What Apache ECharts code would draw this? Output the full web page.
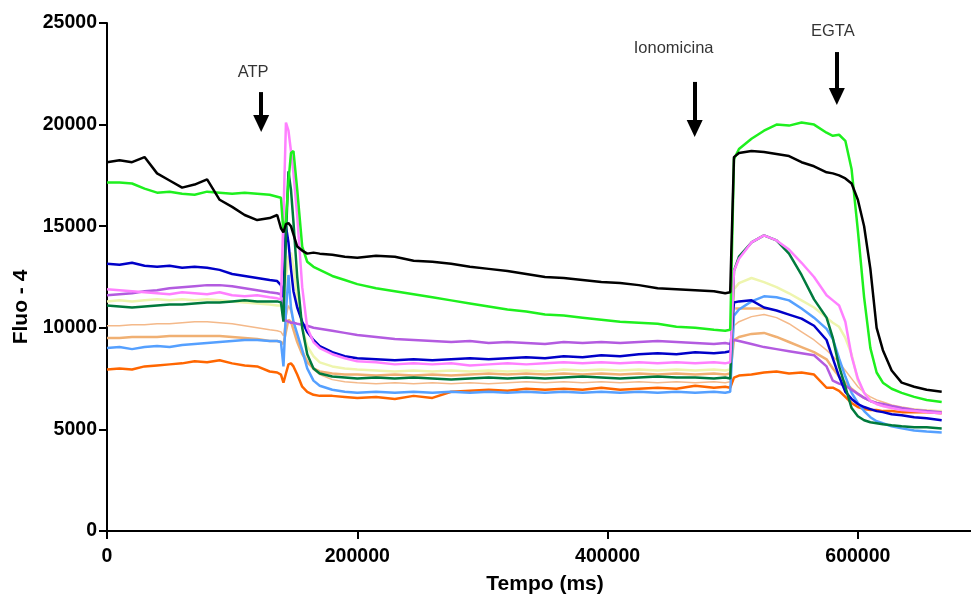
<!DOCTYPE html>
<html>
<head>
<meta charset="utf-8">
<script src="https://cdn.jsdelivr.net/npm/echarts/dist/echarts.min.js"></script>
<style>
  html, body { margin: 0; padding: 0; background: #fff; }
  #grafico { width: 971px; height: 596px; }
</style>
</head>
<body>
<div id="grafico"></div>
<script>
// tempo (ms) - amostragem comum a todas as curvas
var tempo = [0,10000,20000,30000,40000,50000,60000,70000,80000,90000,100000,110000,120000,130000,
  136000,139000,141000,143000,145000,147000,149000,152000,156000,160000,165000,170000,
  180000,190000,200000,
  215000,230000,245000,260000,275000,290000,305000,320000,335000,350000,365000,380000,395000,410000,425000,440000,455000,470000,485000,
  494000,498000,501000,505000,
  515000,525000,535000,545000,555000,565000,575000,
  580000,585000,590000,595000,600000,605000,610000,615000,620000,
  627000,635000,645000,655000,667000];

var preto = [18150,18250,18150,18400,17600,17250,16900,17050,17300,16300,15950,15550,15300,15400,
  15550,14900,14700,15100,15150,15000,14600,14000,13800,13650,13700,13650,
  13600,13500,13450,
  13550,13500,13300,13250,13150,13000,12900,12800,12650,12500,12450,12350,12250,12200,12100,11950,11900,11850,11800,
  11700,11750,18400,18600,
  18700,18650,18550,18450,18150,17950,17650,
  17600,17500,17350,17100,16300,15000,12900,10000,8900,
  7900,7300,7100,6950,6850];

var verde = [17150,17150,17100,16850,16650,16700,16600,16550,16700,16650,16600,16650,16600,16550,
  16450,16400,14700,15300,17200,18600,18700,16800,14000,13250,13000,12850,
  12550,12350,12150,
  11950,11800,11650,11500,11350,11200,11050,10900,10800,10650,10600,10500,10400,10300,10250,10200,10050,10000,9900,
  9850,9900,18300,18800,
  19300,19700,20000,19950,20100,20000,19600,
  19450,19500,19200,17800,14800,11500,9000,7800,7300,
  7000,6800,6600,6450,6350];

var azulEscuro = [13150,13100,13200,13050,13000,13050,12950,13000,12950,12850,12650,12550,12450,12350,
  12300,12100,11500,15000,14200,12900,11800,11000,10300,9800,9400,9100,
  8800,8600,8500,
  8450,8400,8450,8400,8450,8500,8450,8500,8550,8500,8600,8550,8650,8600,8700,8750,8700,8800,8750,
  8800,8850,11250,11300,
  11350,11000,10850,10650,10450,10100,9400,
  8500,7600,6850,6500,6250,6100,6000,5900,5850,
  5750,5700,5600,5550,5450];

var rosa = [11900,11850,11800,11750,11700,11650,11750,11700,11650,11750,11600,11550,11600,11500,
  11450,11400,15500,20100,19700,18700,17600,15500,12000,10000,9300,9000,
  8700,8500,8350,
  8300,8200,8250,8200,8250,8150,8200,8250,8200,8250,8300,8250,8300,8250,8300,8250,8300,8250,8300,
  8250,8300,12800,13400,
  14200,14550,14300,13850,13200,12500,11600,
  11350,11100,10300,8600,7500,6800,6400,6250,6150,
  6050,5950,5900,5850,5800];

var roxo = [11600,11650,11700,11800,11850,11950,12000,12050,12100,12100,12050,11950,11850,11750,
  11700,11650,10400,10350,10300,10250,10250,10200,10150,10100,10000,9950,
  9850,9750,9650,
  9550,9450,9400,9350,9300,9350,9250,9300,9250,9200,9300,9250,9300,9250,9300,9350,9300,9250,9200,
  9250,9200,9400,9350,
  9200,9050,8950,8850,8750,8650,8100,
  7400,7250,7150,6950,6750,6550,6400,6300,6250,
  6150,6050,5950,5900,5850];

var verdeEscuro = [11100,11050,11000,11050,11100,11150,11150,11200,11250,11250,11300,11350,11300,11300,
  11300,11250,10300,14500,17700,16800,15200,12500,10000,8700,8000,7750,
  7600,7550,7500,
  7550,7500,7550,7500,7450,7500,7550,7500,7550,7500,7550,7600,7550,7500,7550,7600,7550,7550,7500,
  7550,7500,12800,13500,
  14200,14550,14300,13650,12600,11400,10500,
  9500,8100,7100,6050,5650,5450,5350,5300,5250,
  5200,5150,5100,5100,5050];

var amareloClaro = [11300,11350,11300,11350,11400,11350,11400,11350,11400,11350,11300,11250,11200,11150,
  11100,11100,11000,12500,13500,13700,13000,11500,10000,9100,8600,8300,
  8100,8000,7950,
  7900,7850,7900,7850,7900,7850,7900,7850,7900,7850,7950,7900,7950,7900,7950,7900,7950,7900,7950,
  7900,7950,11900,12200,
  12450,12250,12000,11700,11350,11000,10500,
  10250,10050,9500,8700,7400,6800,6450,6250,6150,
  6050,6000,5950,5900,5900];

var pessegoFino = [10100,10100,10150,10150,10200,10200,10250,10300,10300,10250,10200,10100,10000,9900,
  9850,9800,9600,10500,11100,10800,10300,9600,8900,8400,7950,7700,
  7450,7350,7300,
  7250,7300,7250,7300,7250,7300,7250,7300,7350,7300,7350,7300,7350,7300,7350,7300,7350,7300,7350,
  7300,7350,10100,10300,
  10550,10650,10500,10200,9800,9400,8900,
  8600,8300,7900,7500,7100,6800,6600,6450,6350,
  6200,6100,6000,5950,5900];

var pessego = [9500,9500,9550,9550,9550,9600,9600,9600,9600,9600,9550,9500,9450,9350,
  9350,9300,9200,9800,10400,10300,9900,9300,8700,8300,8000,7850,
  7750,7700,7700,
  7650,7700,7650,7700,7650,7700,7750,7700,7750,7700,7750,7700,7750,7700,7750,7700,7750,7700,7750,
  7700,7750,9400,9550,
  9700,9750,9550,9300,9050,8800,8450,
  8000,7600,7300,7000,6750,6550,6400,6300,6200,
  6100,6000,5950,5900,5850];

var azulClaro = [9000,9050,8950,9050,9100,9050,9150,9200,9250,9300,9350,9400,9400,9350,
  9350,9300,8100,10800,12600,11000,10300,9700,8900,8000,7400,7150,
  6950,6850,6800,
  6850,6800,6850,6800,6850,6800,6850,6800,6850,6800,6850,6800,6850,6800,6850,6800,6850,6800,6850,
  6800,6850,10600,10900,
  11300,11550,11500,11350,10950,10500,9950,
  9450,8500,7600,6800,6300,5900,5600,5400,5300,
  5150,5050,4950,4900,4850];

var laranja = [7950,8000,7950,8100,8150,8200,8250,8350,8300,8400,8250,8150,8100,7850,
  7800,7700,7300,7750,8200,8250,8100,7700,7100,6850,6700,6650,
  6650,6600,6550,
  6600,6500,6650,6550,6850,6900,6950,6900,7000,6950,7000,6950,7050,6950,7000,7050,7000,7150,7050,
  7100,7050,7550,7650,
  7700,7800,7850,7750,7800,7700,7050,
  7050,6900,6600,6300,6100,6000,5950,5950,5900,
  5900,5850,5850,5850,5800];

// trecho curto de pessego logo apos a ionomicina
var trechoTempo = [502000, 528000];
var trechoValor = [10950, 10950];

// anotacoes
var rotulosTexto = ['ATP', 'Ionomicina', 'EGTA'];
var rotulosX = [116800, 452800, 580000];
var rotulosY = [22590, 23770, 24560];
var setasX = [123200, 469600, 583200];
var setasTopo = [21600, 22100, 23570];
var setasPonta = [20050, 19810, 21380];

var myChart = echarts.init(document.getElementById('grafico'));
var fonte = '"Liberation Sans", Arial, sans-serif';

function curva(valores, cor, largura) {
    return {
        type: 'line',
        data: tempo.map((t, i) => [t, valores[i]]),
        showSymbol: false,
        symbol: 'none',
        silent: true,
        lineStyle: { color: cor, width: largura },
        itemStyle: { color: cor }
    };
}

myChart.setOption({
    animation: false,
    grid: { left: 107, width: 876, top: 23, bottom: 65, containLabel: false, outerBoundsMode: 'none' },
    xAxis: {
        type: 'value',
        min: 0,
        max: 700000,
        interval: 200000,
        name: 'Tempo (ms)',
        nameLocation: 'middle',
        nameGap: 43,
        nameTextStyle: { color: '#000', fontWeight: 'bold', fontSize: 21, fontFamily: fonte },
        axisLine: { lineStyle: { color: '#000', width: 2 } },
        axisTick: { length: 8, lineStyle: { color: '#000', width: 2 } },
        axisLabel: { color: '#000', fontWeight: 'bold', fontSize: 19.5, fontFamily: fonte, margin: 16, showMaxLabel: false, formatter: v => String(v) },
        splitLine: { show: false }
    },
    yAxis: {
        type: 'value',
        min: 0,
        max: 25000,
        interval: 5000,
        axisLine: { show: true, lineStyle: { color: '#000', width: 2 } },
        axisTick: { show: true, length: 8, lineStyle: { color: '#000', width: 2 } },
        axisLabel: { color: '#000', fontWeight: 'bold', fontSize: 19.5, fontFamily: fonte, margin: 10, formatter: v => String(v) },
        splitLine: { show: false }
    },
    graphic: [{
        type: 'text',
        x: 21,
        y: 307,
        rotation: Math.PI / 2,
        style: {
            text: 'Fluo - 4',
            font: 'bold 21px ' + fonte,
            textAlign: 'center',
            textVerticalAlign: 'middle',
            fill: '#000'
        }
    }],
    series: [
        curva(pessegoFino, '#f4b98a', 1.5),
        curva(pessego, '#f0b073', 2.5),
        {
            type: 'line',
            data: trechoTempo.map((t, i) => [t, trechoValor[i]]),
            showSymbol: false,
            silent: true,
            lineStyle: { color: '#f0b073', width: 2.5 }
        },
        curva(amareloClaro, '#eef5ae', 2.5),
        curva(laranja, '#ff6600', 2.5),
        curva(azulClaro, '#55a0ff', 2.5),
        curva(roxo, '#b35be0', 2.5),
        curva(azulEscuro, '#0000c8', 2.5),
        curva(verdeEscuro, '#007a3d', 2.5),
        curva(rosa, '#ff80ff', 2.5),
        curva(verde, '#1ef01e', 2.5),
        curva(preto, '#000000', 2.5),
        {
            type: 'scatter',
            data: rotulosX.map((x, i) => [x, rotulosY[i], rotulosTexto[i]]),
            symbolSize: 0,
            silent: true,
            label: {
                show: true,
                position: 'inside',
                formatter: p => p.data[2],
                color: '#000',
                fontSize: 16.5,
                fontFamily: fonte
            },
            markLine: {
                silent: true,
                symbol: ['none', 'triangle'],
                symbolSize: [16, 17],
                label: { show: false },
                lineStyle: { color: '#000', width: 4, type: 'solid' },
                data: setasX.map((x, i) => [{ coord: [x, setasTopo[i]] }, { coord: [x, setasPonta[i]] }])
            }
        }
    ]
});
</script>
</body>
</html>
